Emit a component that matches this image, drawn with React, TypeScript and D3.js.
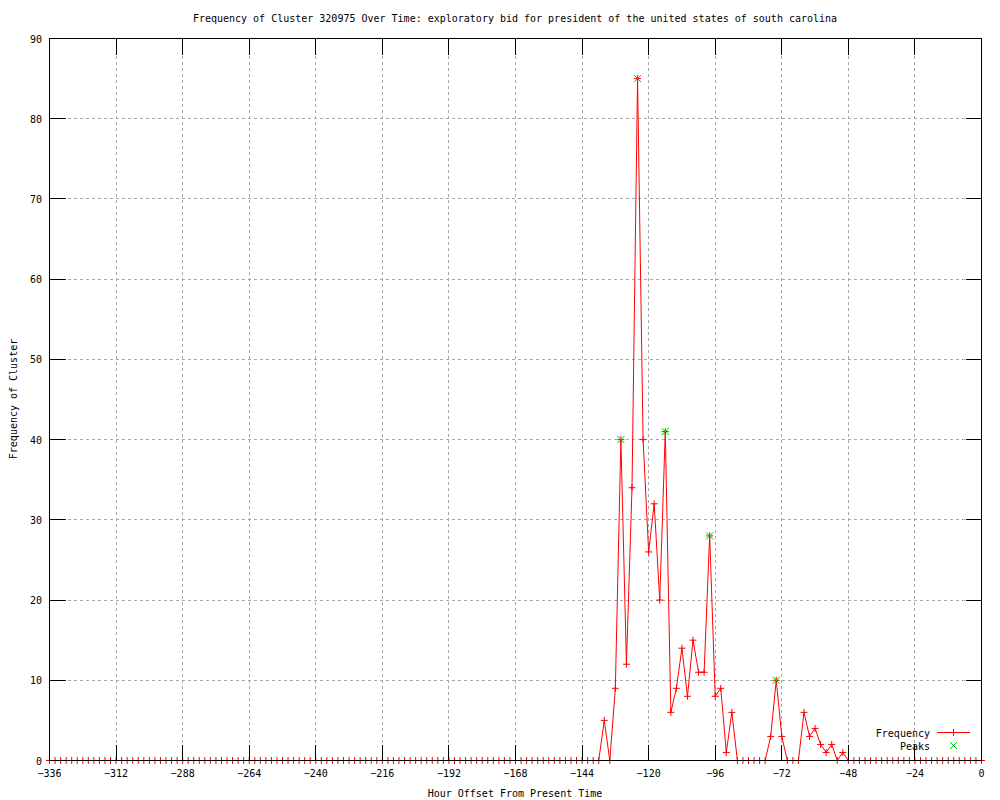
import * as d3 from "d3";

// one sample every 2 hours from -336 to 0
const hours = d3.range(-336, 1, 2);
const freq = [
  0, 0, 0, 0, 0, 0, 0, 0, 0, 0, 0, 0,
  0, 0, 0, 0, 0, 0, 0, 0, 0, 0, 0, 0,
  0, 0, 0, 0, 0, 0, 0, 0, 0, 0, 0, 0,
  0, 0, 0, 0, 0, 0, 0, 0, 0, 0, 0, 0,
  0, 0, 0, 0, 0, 0, 0, 0, 0, 0, 0, 0,
  0, 0, 0, 0, 0, 0, 0, 0, 0, 0, 0, 0,
  0, 0, 0, 0, 0, 0, 0, 0, 0, 0, 0, 0,
  0, 0, 0, 0, 0, 0, 0, 0, 0, 0, 0, 0,
  0, 0, 0, 0, 5, 0, 9, 40, 12, 34, 85, 40,
  26, 32, 20, 41, 6, 9, 14, 8, 15, 11, 11, 28,
  8, 9, 1, 6, 0, 0, 0, 0, 0, 0, 3, 10,
  3, 0, 0, 0, 6, 3, 4, 2, 1, 2, 0, 1,
  0, 0, 0, 0, 0, 0, 0, 0, 0, 0, 0, 0,
  0, 0, 0, 0, 0, 0, 0, 0, 0, 0, 0, 0,
  0,
];
const peakHours = [-130, -124, -114, -98, -74];
const peakValues = [40, 85, 41, 28, 10];

const xTicks = [-336, -312, -288, -264, -240, -216, -192, -168, -144, -120, -96, -72, -48, -24, 0];
const yTicks = [0, 10, 20, 30, 40, 50, 60, 70, 80, 90];

const title =
  "Frequency of Cluster 320975 Over Time: exploratory bid for president of the united states of south carolina";

const font = "'DejaVu Sans Mono', monospace";

const App = () => {
  const x = d3.scaleLinear().domain([-336, 0]).range([49.5, 981.5]);
  const y = d3.scaleLinear().domain([0, 90]).range([760.5, 38.5]);
  const [x0, x1] = x.range();
  const [y0, y1] = y.range();
  const tickLen = 16;
  const m = 3.5;

  const pts = hours.map((h, i) => [x(h), y(freq[i])] as [number, number]);
  const line = d3.line()(pts);

  const plus = (cx: number, cy: number, key: string | number, color: string) => (
    <path
      key={key}
      d={`M${cx - m},${cy}H${cx + m}M${cx},${cy - m}V${cy + m}`}
      stroke={color}
      strokeWidth={1}
      fill="none"
    />
  );
  const cross = (cx: number, cy: number, key: string | number) => (
    <path
      key={key}
      d={`M${cx - m},${cy - m}L${cx + m},${cy + m}M${cx - m},${cy + m}L${cx + m},${cy - m}`}
      stroke="#00c000"
      strokeWidth={1}
      fill="none"
    />
  );

  return (
    <svg
      width={1000}
      height={800}
      style={{ position: "absolute", left: 0, top: 0, background: "white" }}
      fontFamily={font}
      fontSize={10}
    >
      <rect width={1000} height={800} fill="white" />
      <text x={515} y={22} textAnchor="middle">{title}</text>

      {/* grid */}
      <g stroke="#a8a8a8" strokeDasharray="3,3" shapeRendering="crispEdges">
        {xTicks.slice(1, -1).map((t) => (
          <line key={t} x1={x(t)} x2={x(t)} y1={y0} y2={y1} />
        ))}
        {yTicks.slice(1, -1).map((t) => (
          <line key={t} x1={x0} x2={x1} y1={y(t)} y2={y(t)} />
        ))}
      </g>

      {/* data */}
      <path d={line ?? ""} stroke="#ff0000" fill="none" strokeWidth={1} />
      {pts.map(([px, py], i) => plus(px, py, i, "#ff0000"))}
      {peakHours.map((h, i) => cross(x(h), y(peakValues[i]), "pk" + i))}

      {/* border and ticks */}
      <g stroke="black" fill="none" shapeRendering="crispEdges">
        <rect x={x0} y={y1} width={x1 - x0} height={y0 - y1} />
        {xTicks.map((t) => (
          <g key={t}>
            <line x1={x(t)} x2={x(t)} y1={y0} y2={y0 - tickLen} />
            <line x1={x(t)} x2={x(t)} y1={y1} y2={y1 + tickLen} />
          </g>
        ))}
        {yTicks.map((t) => (
          <g key={t}>
            <line x1={x0} x2={x0 + tickLen} y1={y(t)} y2={y(t)} />
            <line x1={x1} x2={x1 - tickLen} y1={y(t)} y2={y(t)} />
          </g>
        ))}
      </g>

      {xTicks.map((t) => (
        <text key={t} x={x(t)} y={777} textAnchor="middle">
          {t < 0 ? "\u2212" + Math.abs(t) : t}
        </text>
      ))}
      {yTicks.map((t) => (
        <text key={t} x={42} y={y(t) + 4} textAnchor="end">
          {t}
        </text>
      ))}

      <text x={515} y={797} textAnchor="middle">Hour Offset From Present Time</text>
      <text transform="translate(17,399) rotate(-90)" textAnchor="middle">
        Frequency of Cluster
      </text>

      {/* legend */}
      <text x={930} y={736.5} textAnchor="end">Frequency</text>
      <line x1={937} x2={970} y1={732.5} y2={732.5} stroke="#ff0000" />
      {plus(953.5, 732.5, "lg1", "#ff0000")}
      <text x={930} y={749.5} textAnchor="end">Peaks</text>
      {cross(953.5, 745.5, "lg2")}
    </svg>
  );
};

export default App;
